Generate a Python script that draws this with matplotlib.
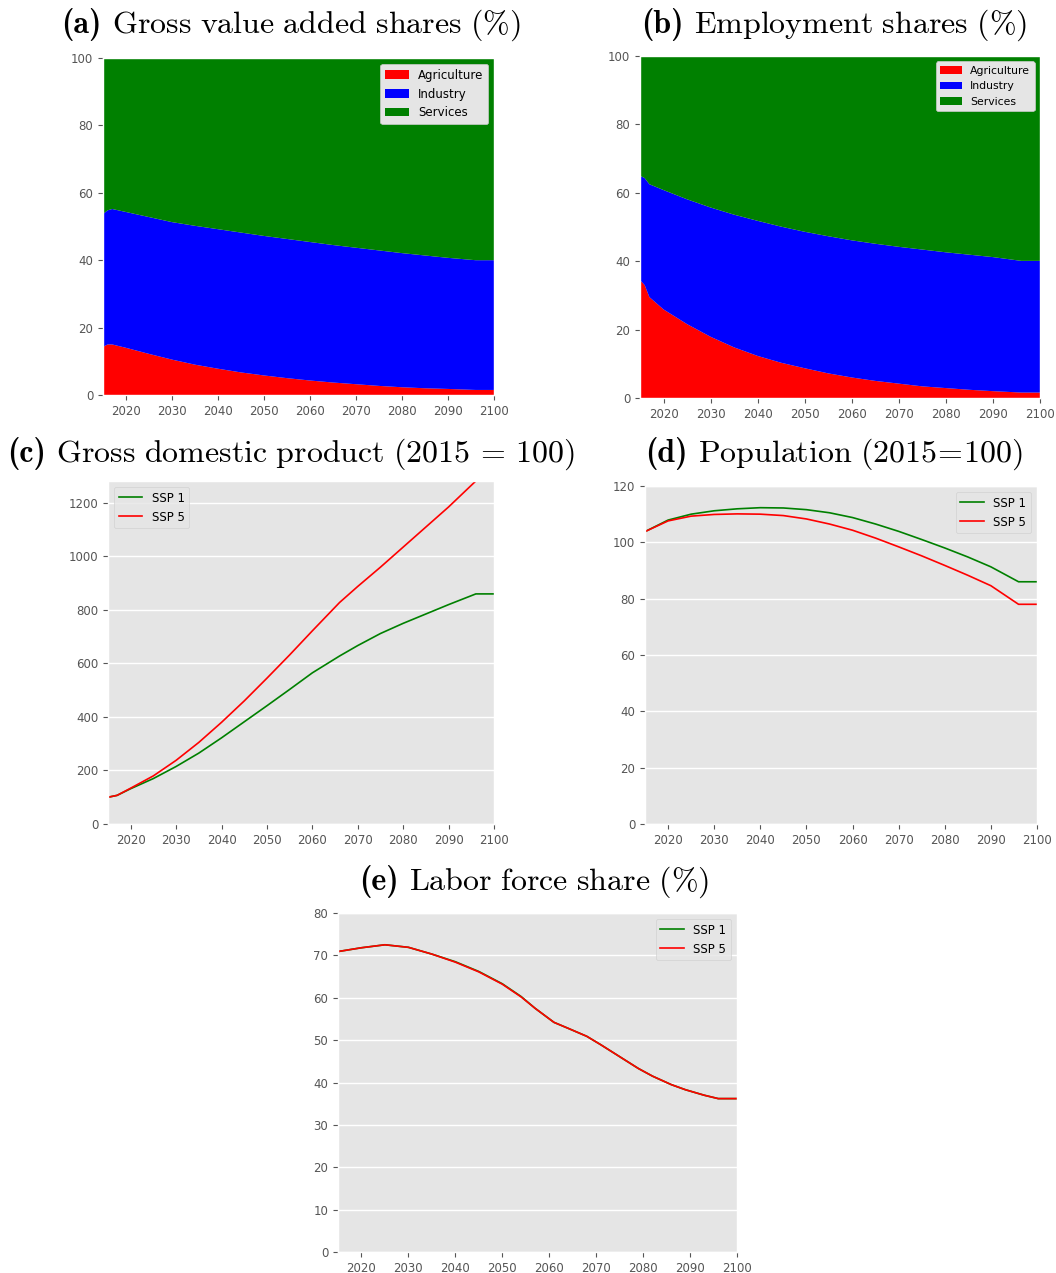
import numpy as np
import matplotlib
matplotlib.use('Agg')
import matplotlib.pyplot as plt

# Años de las series
years = [2015, 2016, 2017, 2020, 2025, 2030, 2035, 2040, 2045, 2050, 2055,
         2060, 2065, 2070, 2075, 2080, 2085, 2090, 2096, 2100]

# (a) Participación en el valor agregado bruto (%)
gva_agri = [14.3, 15.0, 15.0, 14.0, 12.2, 10.5, 9.0, 7.8, 6.7, 5.8, 5.0,
            4.3, 3.7, 3.2, 2.7, 2.3, 2.0, 1.8, 1.5, 1.5]
gva_agri_ind = [53.7, 54.8, 55.2, 54.3, 52.8, 51.3, 50.2, 49.2, 48.2, 47.2, 46.3,
                45.4, 44.5, 43.7, 42.9, 42.1, 41.4, 40.7, 40.0, 40.0]

# (b) Participación en el empleo (%)
emp_agri = [34.5, 33.0, 29.5, 25.9, 21.6, 17.9, 14.8, 12.3, 10.3, 8.7, 7.2,
            6.0, 5.0, 4.2, 3.4, 2.9, 2.4, 2.0, 1.6, 1.6]
emp_agri_ind = [65.0, 64.3, 62.5, 60.8, 58.1, 55.7, 53.6, 51.8, 50.1, 48.6, 47.3,
                46.1, 45.1, 44.2, 43.4, 42.6, 41.9, 41.2, 40.1, 40.1]

sectors = ['Agriculture', 'Industry', 'Services']
sector_colors = ['red', 'blue', 'green']

# (c) PIB
gdp_years = [2015, 2017, 2020, 2025, 2030, 2035, 2040, 2045, 2050, 2055, 2060,
             2066, 2070, 2075, 2080, 2085, 2090, 2096, 2100]
gdp_ssp1 = [100, 107, 132, 170, 215, 265, 322, 382, 442, 503, 565,
            628, 667, 712, 750, 785, 820, 860, 860]
gdp_ssp5 = [100, 107, 134, 180, 238, 305, 380, 460, 545, 632, 722,
            828, 888, 960, 1035, 1110, 1185, 1282, 1282]

# (d) Población
pop_years = [2015, 2020, 2025, 2030, 2035, 2040, 2045, 2050, 2055, 2060,
             2065, 2070, 2075, 2080, 2085, 2090, 2096, 2100]
pop_ssp1 = [103.8, 107.9, 110.0, 111.2, 111.9, 112.3, 112.2, 111.6, 110.5, 108.8,
            106.5, 103.9, 101.0, 98.0, 94.8, 91.3, 86.0, 86.0]
pop_ssp5 = [103.8, 107.6, 109.3, 109.9, 110.1, 110.0, 109.5, 108.3, 106.5, 104.3,
            101.5, 98.4, 95.2, 91.8, 88.3, 84.6, 78.0, 78.0]

# (e) Fuerza laboral
lab_years = [2015, 2020, 2025, 2030, 2035, 2040, 2045, 2050, 2054, 2057, 2061,
             2064, 2068, 2071, 2075, 2079, 2082, 2086, 2089, 2093, 2096, 2100]
lab_ssp1 = [70.9, 71.8, 72.5, 71.9, 70.3, 68.5, 66.2, 63.3, 60.3, 57.5, 54.2,
            52.8, 50.9, 48.9, 46.1, 43.3, 41.5, 39.5, 38.3, 37.0, 36.2, 36.2]
lab_ssp5 = [70.9, 71.8, 72.5, 71.9, 70.3, 68.4, 66.1, 63.2, 60.2, 57.5, 54.2,
            52.8, 50.9, 48.9, 46.1, 43.3, 41.5, 39.5, 38.3, 37.0, 36.2, 36.2]

plt.style.use('ggplot')
plt.rcParams['mathtext.fontset'] = 'cm'

W, H = 1056, 1273
fig = plt.figure(figsize=(W / 100, H / 100), dpi=100)
renderer = fig.canvas.get_renderer()


def axes_px(left, top, right, bottom):
    # crea unos ejes a partir de coordenadas en pixeles
    return fig.add_axes([left / W, 1 - bottom / H, (right - left) / W, (bottom - top) / H])


def title_px(x, y, label, text, size=23):
    # etiqueta en negrita + titulo, centrados juntos en x (linea base en y)
    t1 = fig.text(0, 1 - y / H, label, fontfamily='cmb10', fontsize=size, va='baseline')
    t2 = fig.text(0, 1 - y / H, text, fontsize=size, va='baseline')
    w1 = t1.get_window_extent(renderer).width
    w2 = t2.get_window_extent(renderer).width
    gap = 0.33 * size * 100 / 72
    x0 = x - (w1 + gap + w2) / 2
    t1.set_x(x0 / W)
    t2.set_x((x0 + w1 + gap) / W)


def style_axes(ax, yticks, ymax, grid=True):
    ax.set_xlim(2015, 2100)
    ax.set_ylim(0, ymax)
    ax.set_xticks(range(2020, 2101, 10))
    ax.set_yticks(yticks)
    ax.tick_params(labelsize=8.5, colors='#555555')
    ax.grid(False)
    if grid:
        ax.grid(True, axis='y', color='white', linewidth=1)


def stack_panel(ax, agri, agri_ind, legend_size):
    agri = np.array(agri)
    agri_ind = np.array(agri_ind)
    ax.stackplot(years, agri, agri_ind - agri, 100 - agri_ind,
                 colors=sector_colors, labels=sectors, linewidth=0)
    style_axes(ax, range(0, 101, 20), 100, grid=False)
    ax.legend(loc='upper right', fontsize=legend_size, framealpha=1)


# (a)
ax_a = axes_px(103, 58, 494, 395)
stack_panel(ax_a, gva_agri, gva_agri_ind, 8.5)
title_px(291, 33, '(a)', r'$\mathrm{Gross\ value\ added\ shares\ (\%)}$')

# (b)
ax_b = axes_px(640, 56, 1040, 398)
stack_panel(ax_b, emp_agri, emp_agri_ind, 7.8)
title_px(834, 33, '(b)', r'$\mathrm{Employment\ shares\ (\%)}$')

# (c)
ax_c = axes_px(108, 481, 494, 824)
ax_c.plot(gdp_years, gdp_ssp1, color='green', linewidth=1.2, label='SSP 1')
ax_c.plot(gdp_years, gdp_ssp5, color='red', linewidth=1.2, label='SSP 5')
style_axes(ax_c, range(0, 1201, 200), max(gdp_ssp5))
ax_c.legend(loc='upper left', fontsize=8.5)
title_px(291, 462, '(c)', r'$\mathrm{Gross\ domestic\ product\ (2015\,=\,100)}$')

# (d)
ax_d = axes_px(645, 486, 1037, 824)
ax_d.plot(pop_years, pop_ssp1, color='green', linewidth=1.2, label='SSP 1')
ax_d.plot(pop_years, pop_ssp5, color='red', linewidth=1.2, label='SSP 5')
style_axes(ax_d, range(0, 121, 20), 120)
ax_d.legend(loc='upper right', fontsize=8.5)
title_px(834, 462, '(d)', r'$\mathrm{Population\ (2015\!=\!100)}$')

# (e)
ax_e = axes_px(338, 913, 737, 1252)
ax_e.plot(lab_years, lab_ssp1, color='green', linewidth=1.2, label='SSP 1')
ax_e.plot(lab_years, lab_ssp5, color='red', linewidth=1.2, label='SSP 5')
style_axes(ax_e, range(0, 81, 10), 80)
ax_e.legend(loc='upper right', fontsize=8.5)
title_px(534, 890, '(e)', r'$\mathrm{Labor\ force\ share\ (\%)}$')

fig.savefig('out.png', dpi=100)
